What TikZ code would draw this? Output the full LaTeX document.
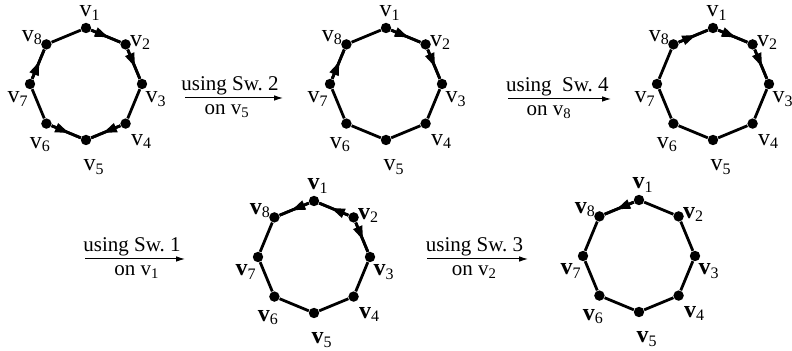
\documentclass[tikz,border=0pt]{standalone}
\usepackage{fontspec}
\setmainfont{Liberation Serif}
\usetikzlibrary{calc,positioning,arrows.meta,decorations.markings}

\tikzset{
  dot/.style={circle, fill=black, inner sep=0pt, minimum size=5.2pt},
  ring/.style={line width=1.4pt},
  flow/.style={postaction={decorate}, decoration={markings,
      mark=at position 0.6 with {\arrow{Triangle[length=7pt,width=4.6pt]}}}},
  vlab/.style={inner sep=0pt, font=\fontsize{12}{14}\selectfont},
  swlab/.style={font=\fontsize{10.5}{12}\selectfont},
  swarrow/.style={line width=0.5pt, -{Latex[length=4.5pt,width=2.8pt]}},
}

% one ring of eight vertices: prefix, centre x, centre y, font of the v
\newcommand{\octring}[4]{%
  \foreach \i in {1,...,8}
    \node[dot] (#1\i) at ($(#2,#3)+({135-45*\i}:56)$) {};
  \foreach \i [remember=\i as \j (initially 8)] in {1,...,8}
    \draw[ring] (#1\j) -- (#1\i);
  \foreach \i/\dx/\dy in {1/4/15,2/15/2,3/14/-15,4/16/-18,5/8/-27,6/-6/-21,7/-12/-15,8/-14/7}
    \node[vlab] (#1l\i) at ($(#1\i)+(\dx,\dy)$) {{#4v}\textsubscript{\i}};
}

\begin{document}
\begin{tikzpicture}[x=0.5pt,y=0.5pt]
  \useasboundingbox (0,0) rectangle (792,351);

  % top row
  \octring{a}{86}{267}{}
  \draw[ring,flow] (a1) -- (a2);
  \draw[ring,flow] (a2) -- (a3);
  \draw[ring,flow] (a4) -- (a5);
  \draw[ring,flow] (a6) -- (a5);
  \draw[ring,flow] (a7) -- (a8);

  \octring{b}{386}{267}{}
  \draw[ring,flow] (b1) -- (b2);
  \draw[ring,flow] (b2) -- (b3);
  \draw[ring,flow] (b7) -- (b8);

  \octring{c}{713}{267}{}
  \draw[ring,flow] (c8) -- (c1);
  \draw[ring,flow] (c1) -- (c2);
  \draw[ring,flow] (c2) -- (c3);

  % bottom row
  \octring{d}{314}{94}{\bfseries}
  \draw[ring,flow] (d1) -- (d8);
  \draw[ring,flow] (d2) -- (d1);
  \draw[ring,flow] (d2) -- (d3);

  \octring{e}{639}{95}{\bfseries}
  \draw[ring,flow] (e1) -- (e8);

  % switching steps
  \coordinate (s1a) at (185,253);
  \coordinate (s1b) at (283,253);
  \draw[swarrow] (s1a) -- (s1b)
    node[pos=0.46, above, swlab, inner sep=1pt] (s1t) {using Sw.~2}
    node[pos=0.43, below, swlab, inner sep=3pt] (s1o) {on v\textsubscript{5}};

  \coordinate (s2a) at (508,252);
  \coordinate (s2b) at (611,252);
  \draw[swarrow] (s2a) -- (s2b)
    node[pos=0.48, above, swlab, inner sep=1pt] (s2t) {using\ \ Sw.~4}
    node[pos=0.4, below, swlab, inner sep=3pt] (s2o) {on v\textsubscript{8}};

  \coordinate (s3a) at (85,92);
  \coordinate (s3b) at (185,92);
  \draw[swarrow] (s3a) -- (s3b)
    node[pos=0.47, above, swlab, inner sep=1pt] (s3t) {using Sw.~1}
    node[pos=0.52, below, swlab, inner sep=3pt] (s3o) {on v\textsubscript{1}};

  \coordinate (s4a) at (427,92);
  \coordinate (s4b) at (528,92);
  \draw[swarrow] (s4a) -- (s4b)
    node[pos=0.47, above, swlab, inner sep=1pt] (s4t) {using Sw.~3}
    node[pos=0.47, below, swlab, inner sep=3pt] (s4o) {on v\textsubscript{2}};
\end{tikzpicture}
\end{document}
